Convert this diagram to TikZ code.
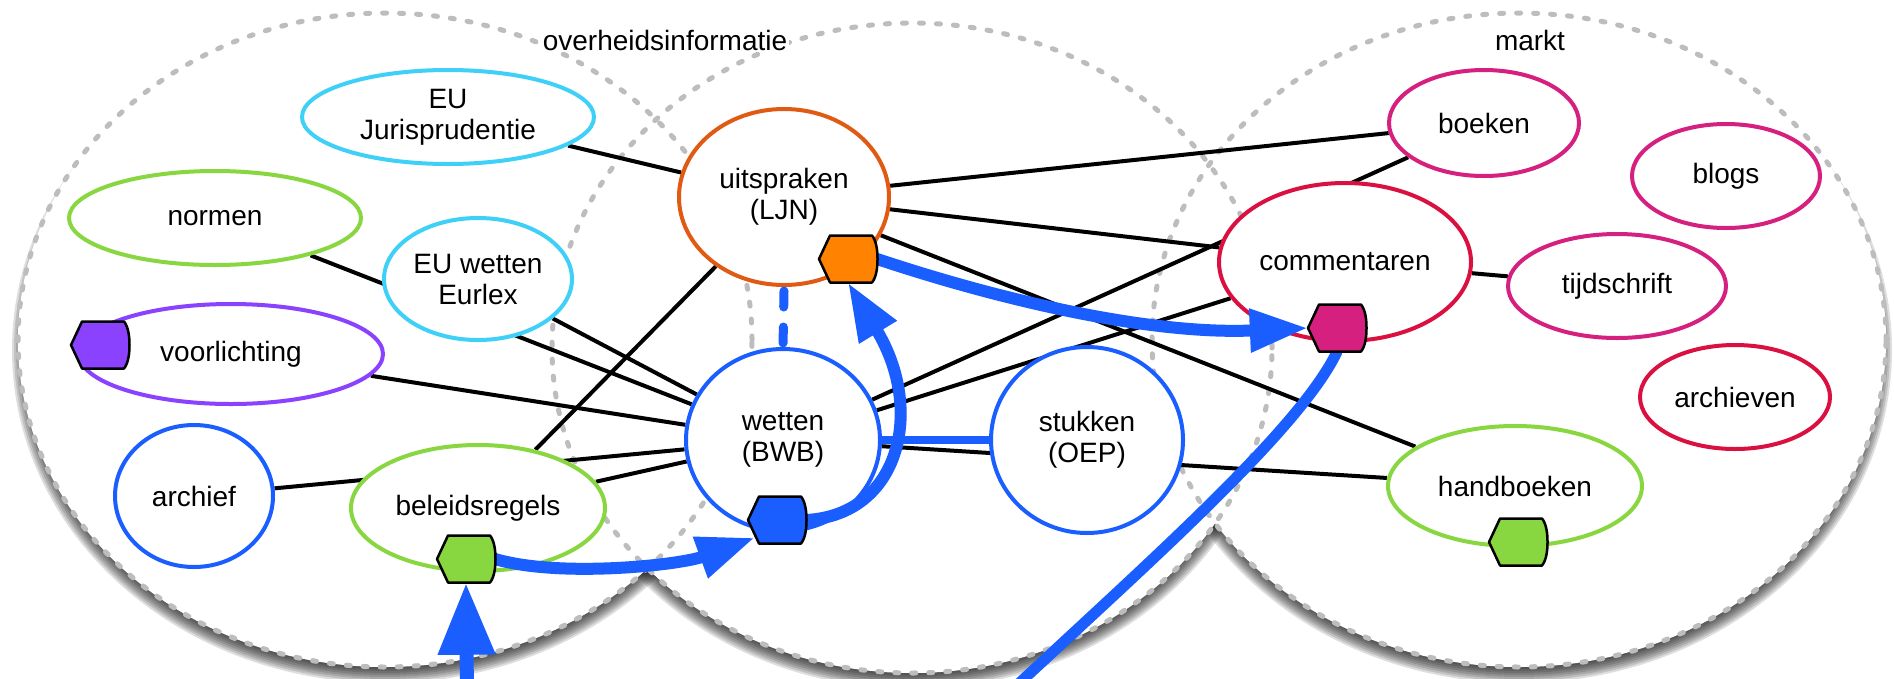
\documentclass[tikz,border=0pt]{standalone}
\usepackage{fontspec}
\setmainfont{Liberation Sans}
\usetikzlibrary{shapes.geometric,arrows.meta,calc}
\pgfdeclarelayer{bigbg}
\pgfdeclarelayer{edges}
\pgfdeclarelayer{front}
\pgfsetlayers{bigbg,edges,main,front}
\definecolor{cCyan}{HTML}{3FD0F8}
\definecolor{cGreen}{HTML}{88D640}
\definecolor{cPurple}{HTML}{8A42FF}
\definecolor{cBlue}{HTML}{1A5EFF}
\definecolor{cOrangeR}{HTML}{E05A14}
\definecolor{cOrange}{HTML}{FF8200}
\definecolor{cCrimson}{HTML}{DA1040}
\definecolor{cMagenta}{HTML}{D62080}
\definecolor{cGray}{HTML}{BDBDBD}
\newcommand\hexat[2]{%
  \draw[line width=2.5pt, fill=#2, line join=round, shift={(#1.center)}]
   (-29,0) -- (-18,-23.5) -- (24,-23.5) .. controls (28.5,-18) and (29.5,-8) .. (29.5,0)
   .. controls (29.5,8) and (28.5,18) .. (24,23.5) -- (-18,23.5) -- cycle;}
\begin{document}
\begin{tikzpicture}[x=1pt,y=-1pt,
  lbl/.style={font=\fontsize{28}{31}\selectfont, align=center, text=black},
  ent/.style={ellipse, draw, line width=4pt, fill=white, inner sep=0pt, lbl},
  hexspot/.style={rectangle, inner sep=0pt, minimum width=58pt, minimum height=47pt},
  link/.style={line width=4pt, black},
  flow/.style={line width=12pt, cBlue, line cap=round},
  tipA/.style={-{Triangle[length=58pt,width=41pt]}},
  bigring/.style={cGray, line width=5pt, line cap=round, dash pattern=on 4pt off 13pt}]
\useasboundingbox (0,0) rectangle (1894,678);

% ---------- big regions ----------
\begin{pgfonlayer}{bigbg}
\foreach \cx/\cy/\rx/\ry in {385/340/367/327, 912/348/360/325, 1519/340/367/327}{
  \foreach \k in {0,...,7}{
    \fill[black,opacity=0.13] (\cx,{\cy+10}) ellipse [x radius={(\rx+2*\k-8)*1pt}, y radius={(\ry+2*\k-8)*1pt}];
  }
}
\foreach \cx/\cy/\rx/\ry in {385/340/367/327, 912/348/360/325, 1519/340/367/327}{
  \fill[white] (\cx,\cy) ellipse [x radius=\rx pt, y radius=\ry pt];
}
\foreach \cx/\cy/\rx/\ry in {385/340/367/327, 912/348/360/325, 1519/340/367/327}{
  \draw[bigring] (\cx,\cy) ellipse [x radius=\rx pt, y radius=\ry pt];
}
\node[lbl, fill=white, inner sep=2pt] (gov) at (665,40) {overheidsinformatie};
\node[lbl, inner sep=2pt] (mkt) at (1530,40) {markt};
\end{pgfonlayer}

% ---------- nodes ----------
\node[ent, draw=cCyan, minimum width=292pt, minimum height=94pt] (euj) at (448,117) {EU\\Jurisprudentie};
\node[ent, draw=cGreen, minimum width=292pt, minimum height=94pt] (normen) at (215,218) {normen};
\node[ent, draw=cCyan, minimum width=188pt, minimum height=122pt] (euw) at (478,279) {EU wetten\\Eurlex};
\node[ent, draw=cPurple, minimum width=304pt, minimum height=100pt] (voorl) at (231,354) {voorlichting};
\node[ent, draw=cBlue, minimum width=158pt, minimum height=142pt] (archief) at (194,496) {archief};
\node[ent, draw=cGreen, minimum width=254pt, minimum height=126pt] (beleid) at (478,508) {beleidsregels};
\node[ent, draw=cOrangeR, minimum width=210pt, minimum height=176pt] (ljn) at (784,197) {uitspraken\\(LJN)};
\node[ent, draw=cBlue, minimum width=194pt, minimum height=182pt] (bwb) at (783,440) {wetten\\(BWB)};
\node[ent, draw=cBlue, minimum width=192pt, minimum height=186pt] (oep) at (1087,440) {stukken\\(OEP)};
\node[ent, draw=cCrimson, minimum width=252pt, minimum height=158pt] (comm) at (1345,262) {commentaren};
\node[ent, draw=cMagenta, minimum width=190pt, minimum height=106pt] (boeken) at (1484,123) {boeken};
\node[ent, draw=cMagenta, minimum width=188pt, minimum height=104pt] (blogs) at (1726,176) {blogs};
\node[ent, draw=cMagenta, minimum width=218pt, minimum height=104pt] (tijd) at (1617,286) {tijdschrift};
\node[ent, draw=cCrimson, minimum width=190pt, minimum height=104pt] (archv) at (1735,397) {archieven};
\node[ent, draw=cGreen, minimum width=254pt, minimum height=120pt] (handb) at (1515,486) {handboeken};

\node[hexspot] (hexP) at (100,345) {};
\node[hexspot] (hexG) at (466,559) {};
\node[hexspot] (hexB) at (777,520) {};
\node[hexspot] (hexO) at (848,259) {};
\node[hexspot] (hexM) at (1337,328) {};
\node[hexspot] (hexH) at (1518,542) {};
\coordinate (botG) at (467,700);
\coordinate (botM) at (1012,690);

% ---------- black links ----------
\begin{pgfonlayer}{edges}
\draw[link] (euj) -- (ljn);
\draw[link] (beleid) -- (ljn);
\draw[link] (normen) -- (bwb);
\draw[link] (euw) -- (bwb);
\draw[link] (voorl) -- (bwb);
\draw[link] (archief) -- (bwb);
\draw[link] (beleid) -- (bwb);
\draw[link] (ljn) -- (boeken);
\draw[link] (ljn) -- (comm);
\draw[link] (ljn) -- (handb);
\draw[link] (bwb) -- (boeken);
\draw[link] (bwb) -- (comm);
\draw[link] (bwb) -- (handb);
\draw[link] (comm) -- (tijd);
\end{pgfonlayer}

% ---------- blue flows and ports ----------
\begin{pgfonlayer}{front}
\draw[cBlue, line width=8pt] (bwb) -- (oep);
\draw[cBlue, line width=9pt, line cap=round, dash pattern=on 16pt off 20pt]
  ([shift={(0,4)}]ljn.south) -- (bwb.north);
\draw[flow, line width=14pt, line cap=butt, -{Triangle[length=72pt,width=54pt]}] (botG) -- (hexG.south);
\draw[flow, tipA] (hexG.east) .. controls (560,578) and (680,565) .. ([shift={(7,-6)}]hexB.south west);
\draw[flow, tipA] (hexB.east) .. controls (900,515) and (925,410) .. (hexO.south);
\draw[flow, tipA] (hexO.east) .. controls (1000,300) and (1150,335) .. (hexM.west);
\draw[flow, line width=11pt] (hexM.south) .. controls (1300,430) and (1140,570) .. (botM);
\hexat{hexP}{cPurple}
\hexat{hexG}{cGreen}
\hexat{hexB}{cBlue}
\hexat{hexO}{cOrange}
\hexat{hexM}{cMagenta}
\hexat{hexH}{cGreen}
\end{pgfonlayer}
\end{tikzpicture}
\end{document}
